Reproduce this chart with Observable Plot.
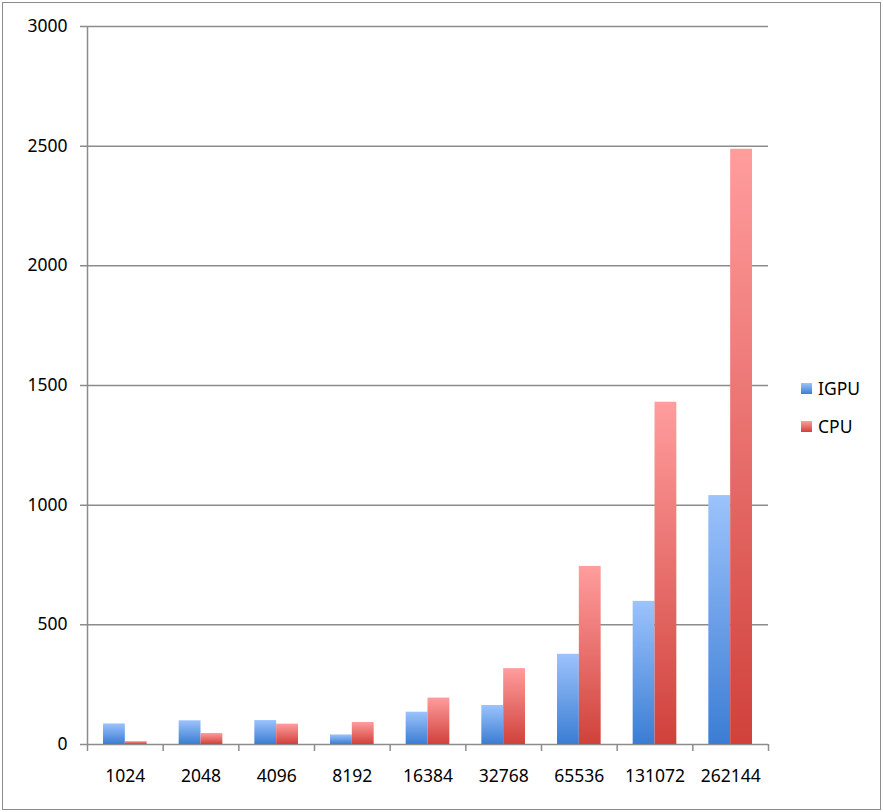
<!DOCTYPE html>
<html>
<head>
<meta charset="utf-8">
<script src="https://cdn.jsdelivr.net/npm/d3@7"></script>
<script src="https://cdn.jsdelivr.net/npm/@observablehq/plot@0.6"></script>
<style>
  html, body { margin: 0; padding: 0; background: #fff; }
  #wrap { position: relative; width: 883px; height: 812px; font-family: "Noto Sans", sans-serif; }
  #border { position: absolute; left: 2px; top: 2px; width: 877px; height: 806px; border: 1px solid #8c8c8c; pointer-events: none; }
  .leg { position: absolute; left: 801px; font-size: 17.5px; line-height: 20px; color: #000; display: flex; align-items: center; }
  .sw { width: 11px; height: 11px; margin-right: 6px; }
</style>
</head>
<body>
<div id="wrap">
  <div id="chart"></div>
  <div id="border"></div>
  <div class="leg" style="top:378px"><div class="sw" style="background:linear-gradient(#9cc3fc,#3b7dd3)"></div>IGPU</div>
  <div class="leg" style="top:416px"><div class="sw" style="background:linear-gradient(#ff9d9d,#d0413b)"></div>CPU</div>
</div>
<script>
const categories = ["1024","2048","4096","8192","16384","32768","65536","131072","262144"];
const igpu = [86, 99, 100, 40, 135, 163, 377, 598, 1040];
const cpu = [12, 46, 85, 92, 194, 317, 744, 1430, 2487];
const yTicks = [0, 500, 1000, 1500, 2000, 2500, 3000];

const igpuData = categories.map((c, i) => ({size: c, value: igpu[i]}));
const cpuData = categories.map((c, i) => ({size: c, value: cpu[i]}));

const W = 883, H = 812, ML = 87, MR = 115, MT = 26, MB = 68;
const step = (W - ML - MR) / categories.length;
const outer = 16;
const half = step / 2;
const grid = "#8c8c8c";

const plot = Plot.plot({
  width: W,
  height: H,
  marginLeft: ML,
  marginRight: MR,
  marginTop: MT,
  marginBottom: MB,
  style: {fontFamily: "Noto Sans, sans-serif", fontSize: "17.5px", color: "#000", background: "#fff"},
  x: {domain: categories, padding: 0, round: false, tickSize: 0, tickPadding: 25, label: null},
  y: {domain: [0, 3000], ticks: yTicks, tickSize: 0, tickPadding: 20, label: null, tickFormat: d => String(d)},
  marks: [
    Plot.ruleY(yTicks, {stroke: grid, strokeWidth: 1.5, insetLeft: -7}),
    Plot.barY(igpuData, {x: "size", y: "value", fill: "url(#gBlue)", insetLeft: outer, insetRight: half}),
    Plot.barY(cpuData, {x: "size", y: "value", fill: "url(#gRed)", insetLeft: half, insetRight: outer}),
    Plot.ruleX([categories[0]], {x: d => d, dx: -half, y1: 0, y2: 3000, stroke: grid, strokeWidth: 1.5}),
    Plot.ruleX(categories, {x: d => d, dx: -half, y1: 0, y2: 0, insetTop: 7, insetBottom: 0, stroke: grid, strokeWidth: 1.5}),
    Plot.ruleX([categories[categories.length - 1]], {x: d => d, dx: half, y1: 0, y2: 0, insetTop: 7, insetBottom: 0, stroke: grid, strokeWidth: 1.5})
  ]
});

const svg = d3.select(plot);
const defs = svg.insert("defs", ":first-child");
const gb = defs.append("linearGradient").attr("id", "gBlue").attr("x1", 0).attr("y1", 0).attr("x2", 0).attr("y2", 1);
gb.append("stop").attr("offset", "0%").attr("stop-color", "#9cc3fc");
gb.append("stop").attr("offset", "100%").attr("stop-color", "#3b7dd3");
const gr = defs.append("linearGradient").attr("id", "gRed").attr("x1", 0).attr("y1", 0).attr("x2", 0).attr("y2", 1);
gr.append("stop").attr("offset", "0%").attr("stop-color", "#ff9d9d");
gr.append("stop").attr("offset", "100%").attr("stop-color", "#d0413b");

document.getElementById("chart").appendChild(plot);
</script>
</body>
</html>
